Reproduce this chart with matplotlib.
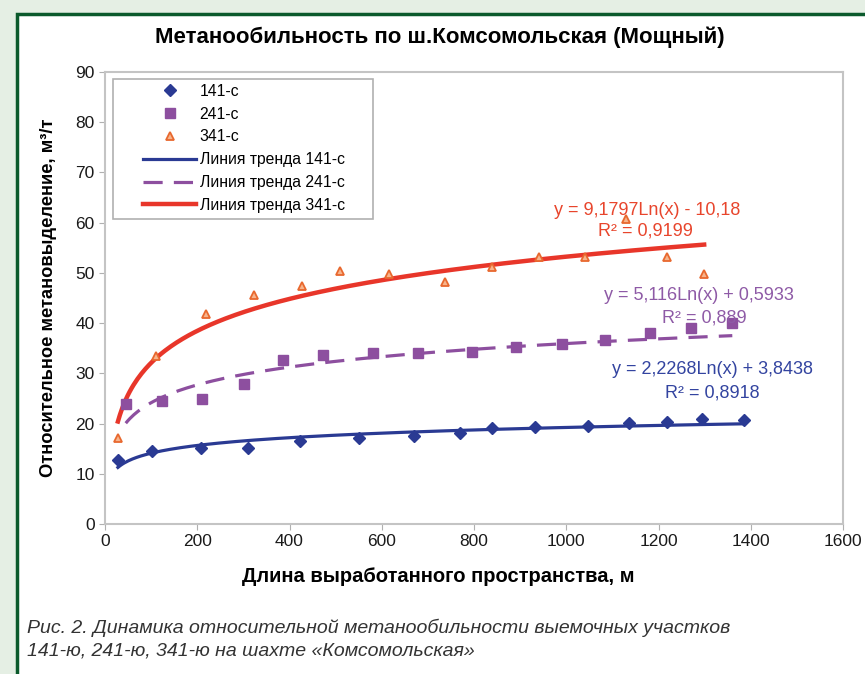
import numpy as np
import matplotlib
matplotlib.use("Agg")
import matplotlib.pyplot as plt
from matplotlib.patches import Rectangle

plt.rcParams['font.family'] = ['Liberation Sans', 'DejaVu Sans']

# данные участков (читаются с графика)
x141 = [28, 102, 209, 310, 422, 551, 671, 769, 838, 933, 1048, 1135, 1219, 1295, 1386]
y141 = [12.8, 14.6, 15.2, 15.2, 16.6, 17.2, 17.6, 18.2, 19.2, 19.4, 19.6, 20.2, 20.4, 21.0, 20.8]

x241 = [45, 123, 210, 301, 385, 472, 580, 678, 795, 890, 990, 1083, 1182, 1271, 1360]
y241 = [23.8, 24.4, 24.8, 27.8, 32.6, 33.6, 34.0, 34.0, 34.2, 35.2, 35.8, 36.6, 38.0, 39.0, 40.0]

x341 = [28, 110, 219, 323, 427, 509, 615, 738, 840, 942, 1041, 1130, 1219, 1299]
y341 = [17.2, 33.4, 41.8, 45.6, 47.4, 50.4, 49.8, 48.2, 51.2, 53.2, 53.2, 60.8, 53.2, 49.8]

# коэффициенты логарифмических трендов (из подписей на графике)
tr141 = (2.2268, 3.8438)
tr241 = (5.116, 0.5933)
tr341 = (9.1797, -10.18)

c_blue = '#2a3a93'
c_purple = '#8d4f9f'
c_red = '#e8362a'
c_orange = '#e8682e'

fig = plt.figure(figsize=(8.65, 6.74), dpi=100)
fig.patch.set_facecolor('#e5efe4')
# белая панель с зелёной рамкой
fig.patches.append(Rectangle((17/865, -0.05), 1.0, 1 - 14/674 + 0.05, transform=fig.transFigure,
                             facecolor='white', edgecolor='#0b5a2c', linewidth=2.5, zorder=-10))

ax = fig.add_axes([105/865, 1 - 524/674, 738/865, 452/674])
ax.set_zorder(5)
ax.set_facecolor('white')

def trend(xs, k):
    xx = np.linspace(min(xs), max(xs), 300)
    return xx, k[0] * np.log(xx) + k[1]

ax.plot(x141, y141, linestyle='none', marker='D', markersize=6.5, color=c_blue, label='141-с', zorder=3)
ax.plot(x241, y241, linestyle='none', marker='s', markersize=6.5, color=c_purple, label='241-с', zorder=3)
ax.plot(x341, y341, linestyle='none', marker='^', markersize=5.5, markerfacecolor='#f7b48c',
        markeredgecolor=c_orange, markeredgewidth=1.3, label='341-с', zorder=3)

xx, yy = trend(x141, tr141)
ax.plot(xx, yy, color=c_blue, lw=2.3, label='Линия тренда 141-с', zorder=2)
xx, yy = trend(x241, tr241)
ax.plot(xx, yy, color=c_purple, lw=2.3, dashes=(6, 3.5), label='Линия тренда 241-с', zorder=2)
xx, yy = trend(x341, tr341)
ax.plot(xx, yy, color=c_red, lw=3.2, label='Линия тренда 341-с', zorder=2)

ax.set_xlim(0, 1600)
ax.set_ylim(0, 90)
ax.set_xticks(range(0, 1601, 200))
ax.set_yticks(range(0, 91, 10))
for s in ax.spines.values():
    s.set_color('#c4c4c4')
    s.set_linewidth(1.5)
ax.tick_params(direction='out', length=4, color='#b0b0b0', labelsize=12.5, labelcolor='#1a1a1a')

ax.set_xlabel('Длина выработанного пространства, м', fontsize=14.5, fontweight='bold')
ax.xaxis.set_label_coords(0.451, -0.095)
ax.set_ylabel('Относительное метановыделение, м³/т', fontsize=13.2, fontweight='bold', labelpad=13)
fig.text(440/865, 1 - 37/674, 'Метанообильность по ш.Комсомольская (Мощный)', ha='center', va='center',
         fontsize=16, fontweight='bold')

# подписи уравнений
ax.text(1175, 62.5, 'y = 9,1797Ln(x) - 10,18', color='#e8452c', fontsize=13, ha='center', va='center')
ax.text(1172, 58.3, 'R² = 0,9199', color='#e8452c', fontsize=13, ha='center', va='center')
ax.text(1288, 45.4, 'y = 5,116Ln(x) + 0,5933', color='#8e5aa6', fontsize=13, ha='center', va='center')
ax.text(1299, 41.0, 'R² = 0,889', color='#8e5aa6', fontsize=13, ha='center', va='center')
ax.text(1316, 30.7, 'y = 2,2268Ln(x) + 3,8438', color='#3344a0', fontsize=13, ha='center', va='center')
ax.text(1316, 26.1, 'R² = 0,8918', color='#3344a0', fontsize=13, ha='center', va='center')

# рамка легенды отдельно, чтобы задать её размер
ax.add_patch(Rectangle((0.0108, 0.6748), 0.3523, 0.3097, transform=ax.transAxes, facecolor='white',
                       edgecolor='#b0b0b0', linewidth=1.2, zorder=4))
leg = ax.legend(loc='upper left', bbox_to_anchor=(0.0515, 0.974), borderaxespad=0, borderpad=0,
                fontsize=11.3, frameon=False, handlelength=3.4, handletextpad=0.2, labelspacing=0.5)
leg.set_zorder(6)

fig.text(27/865, 1 - 628/674, 'Рис. 2. Динамика относительной метанообильности выемочных участков',
         fontsize=14, style='italic', color='#333333', va='center')
fig.text(27/865, 1 - 651/674, '141-ю, 241-ю, 341-ю на шахте «Комсомольская»',
         fontsize=14, style='italic', color='#333333', va='center')

fig.savefig('out.png', dpi=100, facecolor=fig.get_facecolor())
